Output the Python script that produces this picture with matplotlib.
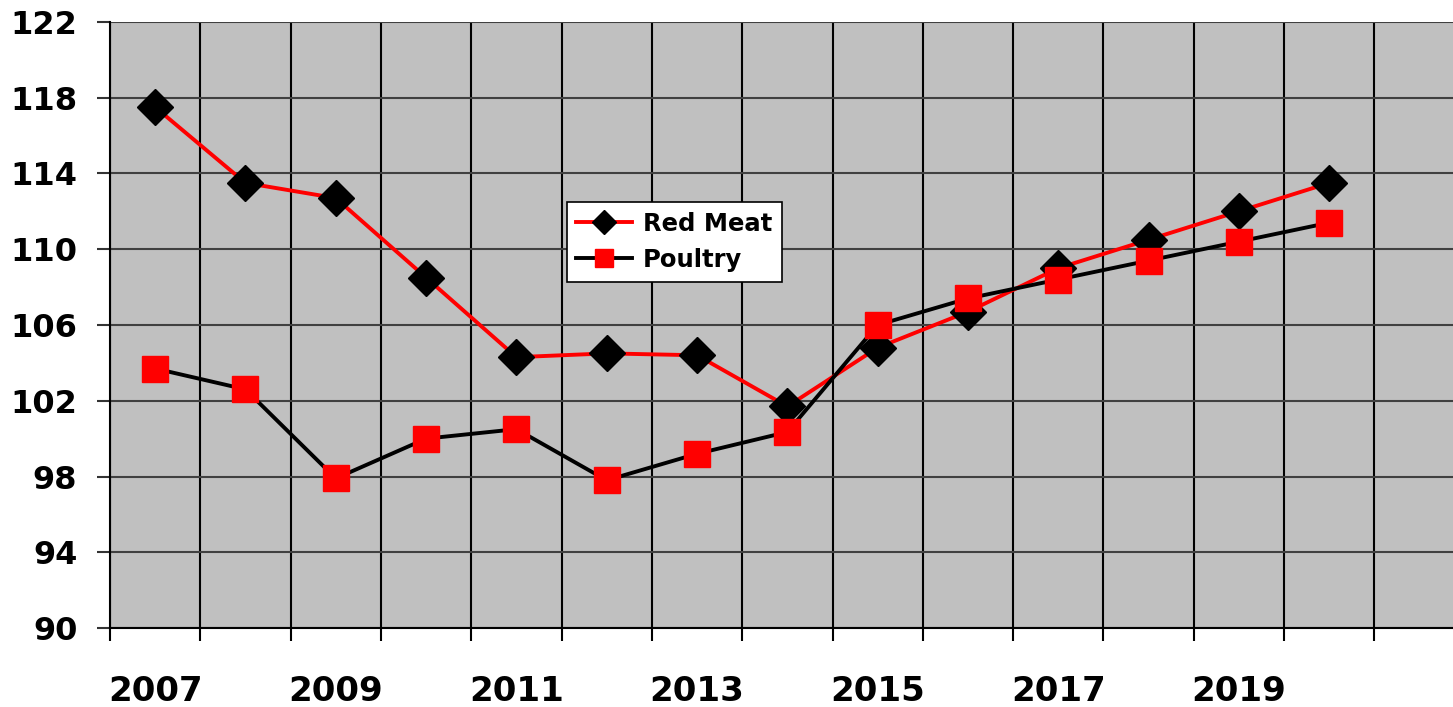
import matplotlib.pyplot as plt
import numpy as np

years = list(range(2007, 2021))
red_meat = [117.5, 113.5, 112.7, 108.5, 104.3, 104.5, 104.4, 101.7, 104.8, 106.7, 109.0, 110.5, 112.0, 113.5]
poultry = [103.7, 102.6, 97.9, 100.0, 100.5, 97.8, 99.2, 100.35, 106.0, 107.4, 108.4, 109.4, 110.4, 111.4]
year_labels = [str(y) if (y - 2007) % 2 == 0 else "" for y in years]
y_ticks = list(range(90, 123, 4))

plt.rcParams['font.family'] = ['DejaVu Sans']
plt.rcParams['font.weight'] = 'bold'

fig, ax = plt.subplots(figsize=(14.53, 7.07), dpi=100)
fig.subplots_adjust(left=0.0757, right=1.0, top=0.969, bottom=0.1117)
ax.set_facecolor('#C0C0C0')

x = np.arange(len(years))
ax.plot(x, red_meat, color='red', lw=2.8, marker='D', ms=18,
        mfc='black', mec='black', label='Red Meat', zorder=3)
ax.plot(x, poultry, color='black', lw=2.8, marker='s', ms=19,
        mfc='red', mec='red', label='Poultry', zorder=4)

ax.set_yticks(y_ticks)
ax.set_xticks(np.arange(len(years) + 1) - 0.5)
ax.set_xticklabels([])
ax.set_xticks(x, minor=True)
ax.set_xticklabels(year_labels, minor=True)
ax.set_xlim(-0.5, 14.37)
ax.set_ylim(90, 122)

ax.tick_params(axis='x', which='major', length=9.5, width=1.5, color='black')
ax.tick_params(axis='x', which='minor', length=0, pad=34, labelsize=24.5)
ax.tick_params(axis='y', length=9.5, width=1.5, color='#333333', pad=14, labelsize=23)

ax.grid(axis='x', which='major', color='black', lw=1.5, zorder=1)
ax.grid(axis='y', color='#404040', lw=1.5, zorder=1)
ax.set_axisbelow(True)

for side in ['top', 'right']:
    ax.spines[side].set_visible(False)
ax.spines['left'].set_linewidth(1.5)
ax.spines['bottom'].set_linewidth(1.5)

leg = ax.legend(loc='upper left', bbox_to_anchor=(0.340, 0.703), borderaxespad=0,
                fancybox=False, framealpha=1, edgecolor='black',
                prop={'size': 17.5, 'weight': 'bold'}, handlelength=2.3,
                handletextpad=0.45, markerscale=0.7, borderpad=0.4, labelspacing=0.5)
leg.get_frame().set_linewidth(1.2)

fig.savefig('out.png', dpi=100)
